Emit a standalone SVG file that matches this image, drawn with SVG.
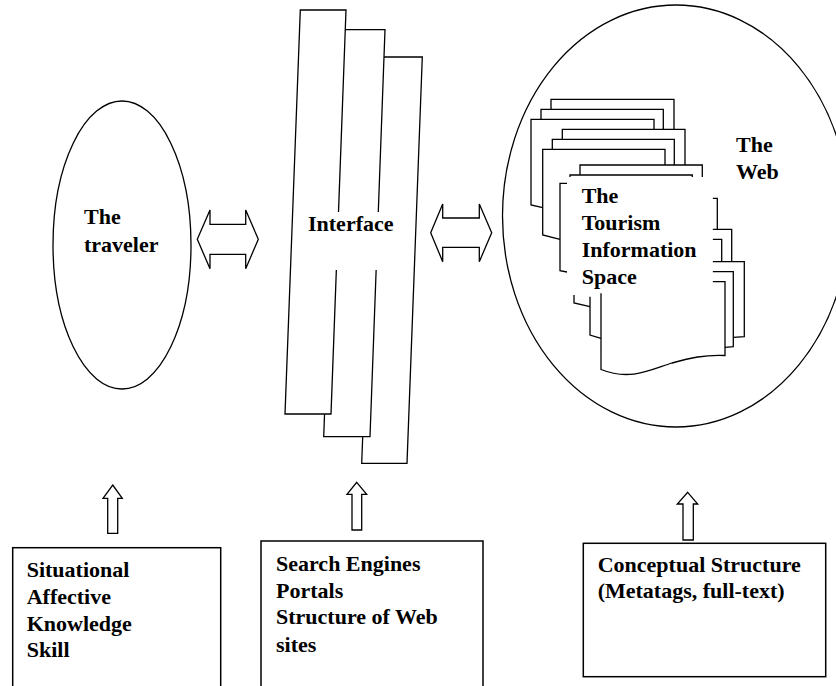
<svg xmlns="http://www.w3.org/2000/svg" width="836" height="686" viewBox="0 0 836 686">
  <style>
    .ln { fill: none; stroke: #000; stroke-width: 1.3; stroke-linejoin: miter; }
    .sh { fill: #fff; stroke: #000; stroke-width: 1.3; stroke-linejoin: miter; }
    .box { fill: #fff; stroke: #000; stroke-width: 1.5; }
    .lbl { font-family: "Liberation Serif", "Times New Roman", serif; font-weight: bold; font-size: 22px; fill: #000; }
  </style>
  <rect width="836" height="686" fill="#fff"/>

  <!-- The traveler -->
  <g id="traveler">
    <ellipse class="sh" cx="122" cy="245" rx="69" ry="144"/>
    <text class="lbl" x="84" y="224">The</text>
    <text class="lbl" x="84" y="252">traveler</text>
  </g>

  <!-- Interface: three slanted strips, back to front -->
  <g id="interface">
    <polygon class="sh" points="377,57 422.3,57 407,463.3 361.7,463.3"/>
    <polygon class="sh" points="339,29.7 385,29.7 370,436.7 323.7,436.7"/>
    <polygon class="sh" points="300.3,10 346,10 331,414 285,414"/>
    <rect x="298" y="212" width="112" height="58" fill="#fff"/>
    <text class="lbl" x="308" y="231">Interface</text>
  </g>

  <!-- The Web with the stacked documents -->
  <g id="web">
    <ellipse class="sh" cx="676" cy="216" rx="173.5" ry="211"/>
    <text class="lbl" x="736" y="152">The</text>
    <text class="lbl" x="736" y="179">Web</text>
    <g id="documents">
      <!-- upper stack -->
      <polyline class="ln" points="551,109.3 551,99.3 674,99.3 674,129.3"/>
      <polyline class="ln" points="541,119.3 541,109.3 663.3,109.3 663.3,129.3"/>
      <polyline class="ln" points="542.7,207.7 531,205 531,119.3 654,119.3 654,129.3"/>
      <!-- middle stack -->
      <polyline class="ln" points="562.3,139.3 562.3,129.3 685,129.3 685,165"/>
      <polyline class="ln" points="552.3,149.3 552.3,139.3 674.3,139.3 674.3,165"/>
      <polyline class="ln" points="560,239.3 542.7,235 542.7,149.3 665,149.3 665,165"/>
      <!-- third stack -->
      <polyline class="ln" points="580,175 580,165 702.3,165 702.3,177"/>
      <polyline class="ln" points="570,177 570,175 692.3,175 692.3,177"/>
      <polyline class="ln" points="567,183.3 560,183.3 560,270.7 567,272"/>
      <!-- pages to the right of the label -->
      <polyline class="ln" points="712.7,198.3 717.3,198.3 717.3,229.3"/>
      <polyline class="ln" points="712.7,229.3 731.7,229.3 731.7,261.7"/>
      <polyline class="ln" points="712.7,239.3 721.7,239.3 721.7,261.7"/>
      <!-- front stack -->
      <polyline class="ln" points="712.7,261.7 744.3,261.7 744.3,336.7 733.3,337.3"/>
      <polyline class="ln" points="712.7,271.7 733.3,271.7 733.3,346.7 725,347.3"/>
      <!-- pages below the label -->
      <polyline class="ln" points="574,295 574,303 590,306.7"/>
      <polyline class="ln" points="590,296.7 590,335 601,338.3"/>
      <path class="ln" d="M712.7,281.7 H725 V355.5 C705,354.5 690,358 672,363 C650,370 630,381 601,369.5 V293.3"/>
    </g>
    <rect x="567" y="177.5" width="145.5" height="115.5" fill="#fff"/>
    <text class="lbl" x="581.7" y="203.3">The</text>
    <text class="lbl" x="581.7" y="230">Tourism</text>
    <text class="lbl" x="581.7" y="257.3">Information</text>
    <text class="lbl" x="581.7" y="284">Space</text>
  </g>

  <!-- Factor boxes -->
  <g id="traveler-factors">
    <rect class="box" x="12.7" y="547.7" width="208" height="160"/>
    <text class="lbl" x="26.7" y="576.7">Situational</text>
    <text class="lbl" x="26.7" y="604">Affective</text>
    <text class="lbl" x="26.7" y="630.7">Knowledge</text>
    <text class="lbl" x="26.7" y="657">Skill</text>
  </g>
  <g id="interface-factors">
    <rect class="box" x="261" y="541" width="222" height="160"/>
    <text class="lbl" x="276" y="570.7">Search Engines</text>
    <text class="lbl" x="276" y="597.7">Portals</text>
    <text class="lbl" x="276" y="624.3">Structure of Web</text>
    <text class="lbl" x="276" y="651.7">sites</text>
  </g>
  <g id="web-factors">
    <rect class="box" x="583.3" y="543.3" width="242.4" height="133.4"/>
    <text class="lbl" x="597.7" y="571.7">Conceptual Structure</text>
    <text class="lbl" x="597.7" y="598.3">(Metatags, full-text)</text>
  </g>

  <!-- Connectors -->
  <g id="connectors">
    <polygon class="sh" points="197.3,239.3 210,210 210,224.3 245.7,224.3 245.7,210 258.3,239.3 245.7,268.7 245.7,254.3 210,254.3 210,268.7"/>
    <polygon class="sh" points="430.7,232.7 442.7,204 442.7,218 479.3,218 479.3,204 491.7,232.7 479.3,261.7 479.3,247.3 442.7,247.3 442.7,261.7"/>
    <polygon class="sh" points="112.7,485 122.3,498.3 117.7,498.3 117.7,533.3 107.7,533.3 107.7,498.3 103,498.3"/>
    <polygon class="sh" points="356.7,482.3 366.7,494.3 361.7,494.3 361.7,530 352,530 352,494.3 347,494.3"/>
    <polygon class="sh" points="687.7,492.3 697.7,504 693.3,504 693.3,540 683,540 683,504 677.3,504"/>
  </g>
</svg>
